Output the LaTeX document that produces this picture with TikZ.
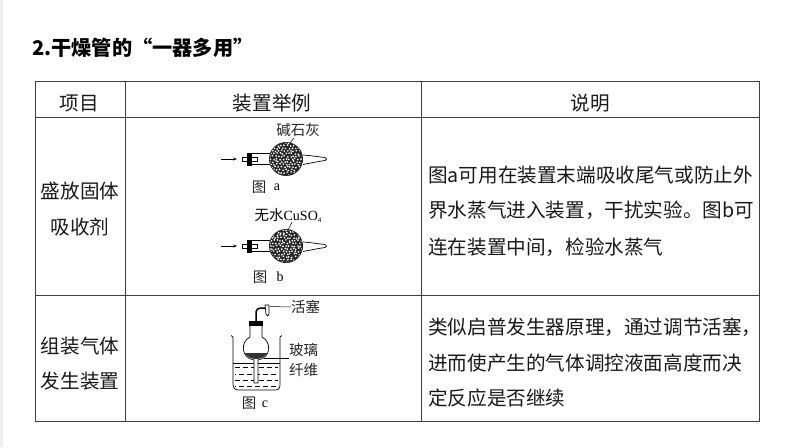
\documentclass[tikz,border=0pt]{standalone}
\usepackage{fontspec}
\setmainfont{Liberation Serif}
\newfontfamily\cjk{Noto Sans CJK SC}
\usetikzlibrary{arrows.meta}
\begin{document}
\begin{tikzpicture}[x=1pt,y=-1pt,
  rule/.style={draw=black!75,line width=0.8pt},
  txt/.style={font=\cjk\fontsize{19.6}{20}\selectfont,text=black!90,inner sep=0},
  lbl/.style={font=\fontsize{14}{15}\selectfont,inner sep=0},
  clbl/.style={font=\cjk\fontsize{14.5}{15}\selectfont,text=black!85,inner sep=0},
  appar/.style={line width=0.7pt,black},
  leader/.style={line width=0.5pt,black}]
\useasboundingbox (0,0) rectangle (794,447);
\fill[white] (0,0) rectangle (794,447);
\fill[black!6] (0,0) rectangle (3,447);
\node[anchor=west,inner sep=0,font=\cjk\bfseries\fontsize{20.2}{21}\selectfont] (title) at (32,48) {2.干燥管的“一器多用”};
\draw[rule] (35,81) rectangle (759,421);
\draw[rule] (35,117)--(759,117) (35,295)--(759,295) (125,81)--(125,421) (421,81)--(421,421);
\node[txt] (h1) at (79,103) {项目};
\node[txt] (h2) at (272,103) {装置举例};
\node[txt] (h3) at (590,103) {说明};
\node[txt] (r1a) at (80,191) {盛放固体};
\node[txt] (r1b) at (80,227) {吸收剂};
\node[txt] (r2a) at (80,346) {组装气体};
\node[txt] (r2b) at (80,381) {发生装置};
\node[txt,anchor=west] (d1) at (428,175) {图a可用在装置末端吸收尾气或防止外};
\node[txt,anchor=west] (d2) at (428,210) {界水蒸气进入装置，干扰实验。图b可};
\node[txt,anchor=west] (d3) at (428,247) {连在装置中间，检验水蒸气};
\node[txt,anchor=west] (d4) at (428,327) {类似启普发生器原理，通过调节活塞，};
\node[txt,anchor=west] (d5) at (428,363) {进而使产生的气体调控液面高度而决};
\node[txt,anchor=west] (d6) at (428,398) {定反应是否继续};
\pgfmathsetseed{7}
\newcommand{\dryer}[1]{\begin{scope}[shift={(0,#1)}]
 \draw[appar,-{Stealth[length=4pt]}] (221,0)--(237,0);
 \draw[appar] (242,-2) rectangle (257,2);
 \fill (247,-6.5) rectangle (252,6.5);
 \draw[appar] (252,-6)--(271,-6) (252,5.5)--(271,5.5);
 \fill[black!85] (286,0) circle (17);
 \begin{scope}
 \clip (286,0) circle (16.2);
 \foreach \i in {-6,...,6} \foreach \j in {-6,...,6} {
   \pgfmathsetmacro{\px}{286+\i*3.0+mod(\j+6,2)*1.5+0.8*rand}
   \pgfmathsetmacro{\py}{\j*2.7+0.8*rand}
   \fill[white] (\px,\py) circle (0.95);
 }
 \end{scope}
 \draw[appar] (303,-4) .. controls (311,-3.5) and (319,-2) .. (325,-1.5) .. controls (327,-1) and (327,1) .. (325,1.5) .. controls (318,2.5) and (311,4) .. (303,5.5);
 \end{scope}}
\dryer{159}
\dryer{246}
\node[clbl] (ja) at (298,130) {碱石灰};
\coordinate (ballA) at (290,143);
\draw[leader] (ja.south) ++(-4,1) -- (ballA);
\node[clbl] (ia) at (259,187) {图};
\node[lbl] (ia2) at (277,187) {a};
\node[lbl] (jb) at (288,215) {{\cjk\fontsize{14.5}{15}\selectfont 无水}CuSO{\fontsize{7}{7}\selectfont\raisebox{-2pt}{4}}};
\coordinate (ballB) at (288,230);
\draw[leader] (jb.south) ++(4,0) -- (ballB);
\node[clbl] (ib) at (260,277) {图};
\node[lbl] (ib2) at (280,277) {b};
% figure c
\draw[appar] (231,335.5) -- (233,337) -- (233,384) .. controls (233,388) and (235,390) .. (239,390) -- (275,390) .. controls (279,390) and (280,388) .. (280,384) -- (280,337) -- (282,335.5);
\draw[appar] (233,363)--(280,363);
\foreach \y/\s in {367.5/0,374/4,380/0,386/4} \draw[line width=0.5pt,dash pattern=on 5pt off 3pt,dash phase=\s] (235,\y)--(278,\y);
\fill[white] (254,362) rectangle (258,384);
\fill[black!80] (245,353) .. controls (249,361) and (263,361) .. (267,353) -- cycle;
\draw[appar] (250,326)--(250,337) .. controls (240,342) and (241,358) .. (254,360) -- (254,383) -- (258,383) -- (258,360) .. controls (271,358) and (272,342) .. (262,337) -- (262,326);
\fill (249,321) rectangle (263,326);
\draw[line width=1.5pt] (256,321)--(256,313) .. controls (256,309.5) and (258,308) .. (262,308)--(267,308);
\draw[appar,fill=white] (265,305)--(269,305)--(269,314)--(267.5,316)--(266,314)--cycle;
\coordinate (cockpt) at (270,306.5);
\node[clbl,anchor=west] (hs) at (291,307) {活塞};
\draw[leader] (cockpt)--(hs.west);
\coordinate (woolpt) at (264,358);
\coordinate (woolend) at (289,358);
\draw[leader] (woolpt)--(woolend);
\node[clbl,anchor=west] (bl) at (289,350) {玻璃};
\node[clbl,anchor=west] (xw) at (289,370) {纤维};
\node[clbl] (ic) at (249,403) {图};
\node[lbl] (ic2) at (265,404) {c};
\end{tikzpicture}
\end{document}
